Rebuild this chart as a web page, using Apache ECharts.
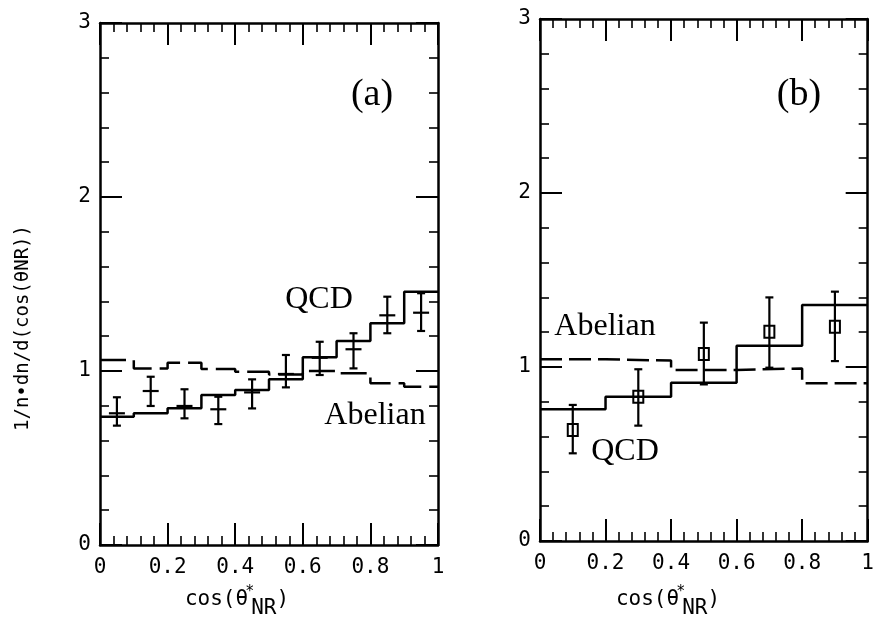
<!DOCTYPE html>
<html>
<head>
<meta charset="utf-8">
<script src="https://cdn.jsdelivr.net/npm/echarts@6/dist/echarts.min.js"></script>
<style>
html,body{margin:0;padding:0;background:#fff;}
#main{width:877px;height:621px;}
</style>
</head>
<body>
<div id="main"></div>
<script>
// ---------- Data ----------
// Panel (a): bin edges, histograms and measured points
const binEdgesA = [0, 0.1, 0.2, 0.3, 0.4, 0.5, 0.6, 0.7, 0.8, 0.9, 1.0];
const qcdA      = [0.737, 0.757, 0.786, 0.862, 0.891, 0.952, 1.079, 1.172, 1.274, 1.456];
const abelianA  = [1.063, 1.015, 1.047, 1.011, 0.996, 0.98, 1.0, 0.987, 0.929, 0.91];
const ptXA  = [0.05, 0.15, 0.25, 0.35, 0.45, 0.55, 0.65, 0.75, 0.85, 0.95];
const ptYA  = [0.757, 0.885, 0.799, 0.78, 0.877, 0.983, 1.076, 1.125, 1.32, 1.335];
const ptLoA = [0.686, 0.799, 0.728, 0.695, 0.785, 0.906, 0.977, 1.015, 1.217, 1.23];
const ptHiA = [0.849, 0.967, 0.895, 0.852, 0.952, 1.092, 1.168, 1.217, 1.427, 1.447];

// Panel (b)
const binEdgesB = [0, 0.2, 0.4, 0.6, 0.8, 1.0];
const qcdB      = [0.757, 0.829, 0.91, 1.122, 1.356];
const abelianB  = [1.044, 1.037, 0.983, 0.992, 0.906];
const ptXB  = [0.1, 0.3, 0.5, 0.7, 0.9];
const ptYB  = [0.638, 0.829, 1.075, 1.203, 1.232];
const ptLoB = [0.504, 0.663, 0.9, 0.996, 1.034];
const ptHiB = [0.782, 0.987, 1.255, 1.4, 1.433];

// Axis ticks
const xTicks = {min: 0, max: 1, interval: 0.2};
const yTicks = {min: 0, max: 3, interval: 1};

// ---------- Helpers ----------
function histData(edges, vals) {
  const d = vals.map((v, i) => [edges[i], v]);
  d.push([edges[edges.length - 1], vals[vals.length - 1]]);
  return d;
}
function pointData(xs, ys, lo, hi) {
  return xs.map((x, i) => [x, ys[i], lo[i], hi[i]]);
}
const tickFont = 'DejaVu Sans Mono';
const BLACK = '#000';

function makeX(grid, pos, showLabel) {
  return {
    type: 'value', gridIndex: grid, position: pos,
    min: xTicks.min, max: xTicks.max, interval: xTicks.interval,
    axisLine: {show: true, onZero: false, lineStyle: {color: BLACK, width: 2.5}},
    axisTick: {show: true, inside: true, length: 22, lineStyle: {color: BLACK, width: 2}},
    minorTick: {show: true, splitNumber: 5, length: 9, lineStyle: {color: BLACK, width: 1.6}},
    splitLine: {show: false}, minorSplitLine: {show: false},
    axisLabel: {show: showLabel, color: BLACK, fontFamily: tickFont, fontSize: 21, margin: 12,
      formatter: v => (v === 0 || v === 1) ? String(v) : v.toFixed(1)}
  };
}
function makeY(grid, pos, showLabel) {
  return {
    type: 'value', gridIndex: grid, position: pos,
    min: yTicks.min, max: yTicks.max, interval: yTicks.interval,
    axisLine: {show: true, onZero: false, lineStyle: {color: BLACK, width: 2.5}},
    axisTick: {show: true, inside: true, length: 22, lineStyle: {color: BLACK, width: 2}},
    minorTick: {show: true, splitNumber: 5, length: 9, lineStyle: {color: BLACK, width: 1.6}},
    splitLine: {show: false}, minorSplitLine: {show: false},
    axisLabel: {show: showLabel, color: BLACK, fontFamily: tickFont, fontSize: 21, margin: 9}
  };
}
function histSeries(xi, yi, edges, vals, dashed) {
  return {
    type: 'line', xAxisIndex: xi, yAxisIndex: yi, step: 'end',
    data: histData(edges, vals), showSymbol: false, symbol: 'none', silent: true,
    lineStyle: {color: BLACK, width: 2.5, type: dashed ? dashed : 'solid'},
    z: 3
  };
}
function pointsSeries(xi, yi, data, marker) {
  return {
    type: 'custom', xAxisIndex: xi, yAxisIndex: yi, data: data,
    encode: {x: 0, y: [1, 2, 3]}, silent: true, z: 5,
    renderItem: function (params, api) {
      const x = api.value(0), y = api.value(1), lo = api.value(2), hi = api.value(3);
      const c = api.coord([x, y]), l = api.coord([x, lo]), h = api.coord([x, hi]);
      const st = {stroke: BLACK, lineWidth: 2.2, fill: null};
      const ch = [
        {type: 'line', shape: {x1: c[0], y1: l[1], x2: c[0], y2: h[1]}, style: st},
        {type: 'line', shape: {x1: c[0] - 4, y1: l[1], x2: c[0] + 4, y2: l[1]}, style: st},
        {type: 'line', shape: {x1: c[0] - 4, y1: h[1], x2: c[0] + 4, y2: h[1]}, style: st}
      ];
      if (marker === 'cross') {
        ch.push({type: 'line', shape: {x1: c[0] - 8, y1: c[1], x2: c[0] + 8, y2: c[1]}, style: st});
      } else {
        ch.push({type: 'rect', shape: {x: c[0] - 5, y: c[1] - 6, width: 10, height: 12},
                 style: {stroke: BLACK, lineWidth: 2, fill: null}});
      }
      return {type: 'group', children: ch};
    }
  };
}
function txt(x, y, text, size, family, extra) {
  return Object.assign({
    type: 'text', x: x, y: y, silent: true, z: 10,
    style: {text: text, fill: BLACK, font: size + 'px "' + family + '"',
            textAlign: 'center', textVerticalAlign: 'middle'}
  }, extra || {});
}
function xTitle(x, y) {
  return {
    type: 'text', x: x, y: y, silent: true, z: 10,
    style: {
      text: '{n|cos(θ}{p|*}{s|NR}{n|)}',
      fill: BLACK, textAlign: 'center', textVerticalAlign: 'middle',
      rich: {
        n: {fontFamily: tickFont, fontSize: 21, lineHeight: 22, verticalAlign: 'top', fill: BLACK},
        p: {fontFamily: tickFont, fontSize: 15, lineHeight: 22, verticalAlign: 'top', padding: [-4, 0, 0, -3], fill: BLACK},
        s: {fontFamily: tickFont, fontSize: 21, lineHeight: 22, verticalAlign: 'top', padding: [9, 0, 0, -3], fill: BLACK}
      }
    }
  };
}

const option = {
  animation: false,
  backgroundColor: '#fff',
  grid: [
    {left: 100, top: 23, width: 338, height: 522},
    {left: 540, top: 19, width: 333, height: 522}
  ],
  xAxis: [makeX(0, 'bottom', true), makeX(0, 'top', false), makeX(1, 'bottom', true), makeX(1, 'top', false)],
  yAxis: [makeY(0, 'left', true), makeY(0, 'right', false), makeY(1, 'left', true), makeY(1, 'right', false)],
  series: [
    histSeries(0, 0, binEdgesA, qcdA, null),
    histSeries(0, 0, binEdgesA, abelianA, [26, 8]),
    pointsSeries(0, 0, pointData(ptXA, ptYA, ptLoA, ptHiA), 'cross'),
    histSeries(2, 2, binEdgesB, qcdB, null),
    histSeries(2, 2, binEdgesB, abelianB, [22, 7]),
    pointsSeries(2, 2, pointData(ptXB, ptYB, ptLoB, ptHiB), 'square')
  ],
  graphic: [
    txt(372, 95, '(a)', 38, 'Liberation Serif'),
    txt(799, 95, '(b)', 38, 'Liberation Serif'),
    txt(319, 300, 'QCD', 32, 'Liberation Serif'),
    txt(375, 416, 'Abelian', 32, 'Liberation Serif'),
    txt(605, 327, 'Abelian', 32, 'Liberation Serif'),
    txt(625, 452, 'QCD', 32, 'Liberation Serif'),
    xTitle(237, 600),
    xTitle(668, 600),
    txt(23, 328, '1/n•dn/d(cos(θNR))', 19, tickFont, {rotation: Math.PI / 2})
  ]
};

const chart = echarts.init(document.getElementById('main'), null, {renderer: 'canvas'});
chart.setOption(option);
</script>
</body>
</html>
